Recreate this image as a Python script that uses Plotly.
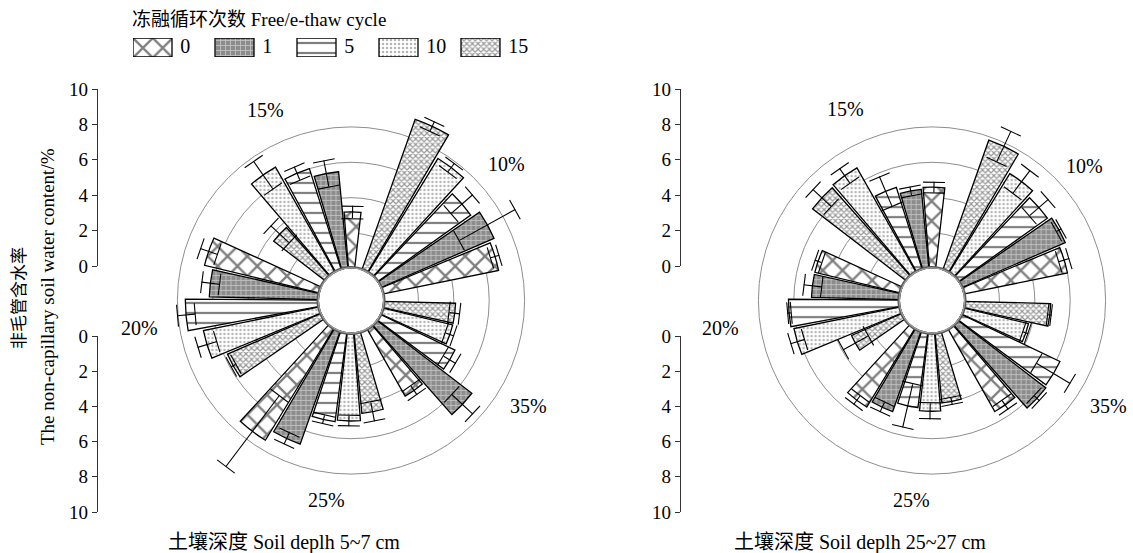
import math
import plotly.graph_objects as go

W, H = 1133, 553

# ---- data -------------------------------------------------------------
MOISTURE = ["10%", "15%", "20%", "25%", "35%"]
CYCLES = ["0", "1", "5", "10", "15"]
RADIAL_TICKS = [0, 2, 4, 6, 8, 10]

# non-capillary soil water content (%), rows = freeze-thaw cycles, cols = moisture
DEPTH_5_7_MEAN = {
    "0":  [6.70, 3.20, 6.70, 7.45, 4.40],
    "1":  [7.00, 5.50, 6.20, 6.80, 6.80],
    "5":  [6.50, 6.00, 7.55, 5.10, 4.70],
    "10": [7.60, 6.85, 6.70, 5.00, 4.10],
    "15": [9.05, 3.70, 5.80, 4.60, 4.10],
}
DEPTH_5_7_SD = {
    "0":  [0.25, 0.35, 0.50, 2.50, 0.30],
    "1":  [1.80, 0.75, 0.50, 0.35, 0.80],
    "5":  [0.80, 0.40, 0.50, 0.25, 0.40],
    "10": [0.30, 0.95, 0.55, 0.30, 0.25],
    "15": [0.30, 0.70, 0.15, 0.55, 0.30],
}
DEPTH_25_27_MEAN = {
    "0":  [6.00, 4.60, 5.00, 5.25, 5.40],
    "1":  [6.40, 4.50, 5.00, 4.85, 6.30],
    "5":  [6.20, 4.90, 6.30, 4.30, 6.20],
    "10": [6.60, 6.80, 6.15, 4.45, 3.80],
    "15": [7.80, 6.70, 3.15, 4.00, 4.90],
}
DEPTH_25_27_SD = {
    "0":  [0.30, 0.30, 0.20, 0.30, 0.30],
    "1":  [0.15, 0.25, 0.50, 0.30, 0.20],
    "5":  [0.70, 0.90, 0.10, 1.25, 1.10],
    "10": [0.80, 0.50, 0.40, 0.45, 0.15],
    "15": [0.95, 0.70, 0.80, 0.20, 0.10],
}

# ---- styling ----------------------------------------------------------
SERIF = "Liberation Serif, Noto Sans CJK SC"
RING_PX = 32          # radius of the central hole
PX_PER_UNIT = 17.7    # radial scale
CAP_HALF_PX = 11      # half length of error-bar caps
SLOT_DEG = 12
BAR_DEG = 11
ROTATION = 17

PATTERNS = {
    "0":  dict(shape="x", size=14, solidity=0.3, fgcolor="black", bgcolor="white"),
    "1":  dict(shape="+", size=5, solidity=0.3, fgcolor="white", bgcolor="#8c8c8c"),
    "5":  dict(shape="-", size=10, solidity=0.22, fgcolor="black", bgcolor="white"),
    "10": dict(shape=".", size=4, solidity=0.3, fgcolor="#6a6a6a", bgcolor="white"),
    "15": dict(shape="x", size=4, solidity=0.5, fgcolor="#303030", bgcolor="white"),
}


def px(x):
    return x / W


def py(y):
    return 1 - y / H


def text_note(x, y, text, size=20, angle=0, xanchor="center"):
    return dict(x=px(x), y=py(y), xref="paper", yref="paper", text=text,
                showarrow=False, textangle=angle, xanchor=xanchor,
                yanchor="middle",
                font=dict(family=SERIF, size=size, color="black"))


CHARTS = [
    dict(polar="polar", cx=351, cy=300.5, rmax=10.2,
         mean=DEPTH_5_7_MEAN, sd=DEPTH_5_7_SD,
         caption="土壤深度 Soil deplh 5~7 cm", cap_xy=(284, 542),
         labels={"15%": (265, 110), "10%": (506, 164), "20%": (139, 328),
                 "25%": (326, 500), "35%": (528, 406)}),
    dict(polar="polar2", cx=932, cy=300.5, rmax=9.4,
         mean=DEPTH_25_27_MEAN, sd=DEPTH_25_27_SD,
         caption="土壤深度 Soil deplh 25~27 cm", cap_xy=(860, 542),
         labels={"15%": (845, 109), "10%": (1084, 166), "20%": (720, 328),
                 "25%": (911, 500), "35%": (1108, 406)}),
]


def slot_theta(g, c):
    # six slots per moisture group, the last one left empty as a gap
    return (g * 6 + c) * SLOT_DEG


fig = go.Figure()
annotations = []

for ch in CHARTS:
    sub = ch["polar"]
    # bars
    for c, cyc in enumerate(CYCLES):
        thetas = [slot_theta(g, c) for g in range(len(MOISTURE))]
        fig.add_trace(go.Barpolar(
            r=ch["mean"][cyc], theta=thetas, width=[BAR_DEG] * len(thetas),
            subplot=sub, name=cyc, showlegend=False,
            marker=dict(color="white", line=dict(color="black", width=1.3),
                        pattern=PATTERNS[cyc]),
            hovertemplate="%{r}<extra></extra>",
        ))
    # error bars (stem + caps at both ends)
    er, et = [], []
    for c, cyc in enumerate(CYCLES):
        for g in range(len(MOISTURE)):
            tc = slot_theta(g, c)
            v, s = ch["mean"][cyc][g], ch["sd"][cyc][g]
            lo, hi = max(v - s, 0), v + s
            er += [lo, hi, None]
            et += [tc, tc, None]
            for end in (lo, hi):
                half = math.degrees(CAP_HALF_PX / (RING_PX + end * PX_PER_UNIT))
                er += [end, end, None]
                et += [tc - half, tc + half, None]
    fig.add_trace(go.Scatterpolar(
        r=er, theta=et, mode="lines", subplot=sub, showlegend=False,
        line=dict(color="black", width=1.1), connectgaps=False,
        cliponaxis=False, hoverinfo="skip"))
    # grey ring around the hole
    ring_t = list(range(0, 361, 4))
    for col, wdt in (("#555555", 5), ("#a0a0a0", 2.4)):
        fig.add_trace(go.Scatterpolar(
            r=[0] * len(ring_t), theta=ring_t, mode="lines", subplot=sub,
            showlegend=False, line=dict(color=col, width=wdt),
            cliponaxis=False, hoverinfo="skip"))

    R = RING_PX + ch["rmax"] * PX_PER_UNIT
    fig.layout[sub] = dict(
        domain=dict(x=[px(ch["cx"] - R), px(ch["cx"] + R)],
                    y=[py(ch["cy"] + R), py(ch["cy"] - R)]),
        hole=RING_PX / R,
        bgcolor="white",
        barmode="overlay",
        radialaxis=dict(range=[0, ch["rmax"]], tickvals=[2, 4, 6, 8],
                        showticklabels=False, ticks="", showline=False,
                        gridcolor="#8e8e8e", gridwidth=1),
        angularaxis=dict(rotation=ROTATION, direction="counterclockwise",
                         thetaunit="degrees", showgrid=False,
                         showticklabels=False, ticks="", showline=False),
    )
    for lab, (lx, ly) in ch["labels"].items():
        annotations.append(text_note(lx, ly, lab))
    annotations.append(text_note(ch["cap_xy"][0], ch["cap_xy"][1], ch["caption"]))

# ---- vertical radial scales beside each rose --------------------------
scale_axes = [("x", "y", "y2", 98), ("x2", "y3", "y4", 681)]
layout_axes = {}
for xa, ya_up, ya_dn, xpos in scale_axes:
    xkey = "xaxis" if xa == "x" else "xaxis" + xa[1:]
    layout_axes[xkey] = dict(domain=[px(xpos), px(xpos + 10)], range=[0, 1],
                             visible=False, anchor=ya_up, fixedrange=True,
                             automargin=False)
    for ya, dom, rng in ((ya_up, (89, 266), [0, 10]), (ya_dn, (336, 512), [10, 0])):
        ykey = "yaxis" if ya == "y" else "yaxis" + ya[1:]
        layout_axes[ykey] = dict(
            domain=[py(dom[1]), py(dom[0])], range=rng, anchor=xa,
            tickvals=RADIAL_TICKS, ticks="outside", ticklen=5, tickwidth=1,
            tickcolor="#333333", showline=True, linecolor="#333333",
            linewidth=1.3, showgrid=False, zeroline=False, fixedrange=True,
            automargin=False,
            tickfont=dict(family=SERIF, size=19, color="black"))
        fig.add_trace(go.Scatter(x=[0.5] * len(RADIAL_TICKS), y=RADIAL_TICKS,
                                 xaxis=xa, yaxis=ya, mode="markers",
                                 marker=dict(opacity=0), showlegend=False,
                                 hoverinfo="skip"))

# ---- legend drawn as a strip of patterned swatches --------------------
SWATCH_STEP_PX = 82
SWATCH_W = 39 / SWATCH_STEP_PX
layout_axes["xaxis3"] = dict(domain=[px(133), px(133 + 5 * SWATCH_STEP_PX)],
                             range=[0, 5], visible=False, anchor="y5",
                             fixedrange=True, automargin=False)
layout_axes["yaxis5"] = dict(domain=[py(57), py(38)], range=[0, 1],
                             visible=False, anchor="x3", fixedrange=True,
                             automargin=False)
for i, cyc in enumerate(CYCLES):
    fig.add_trace(go.Bar(x=[i], y=[1], base=0, width=SWATCH_W, offset=0,
                         xaxis="x3", yaxis="y5", showlegend=False,
                         marker=dict(color="white",
                                     line=dict(color="black", width=1.3),
                                     pattern=PATTERNS[cyc]),
                         hoverinfo="skip"))
fig.add_trace(go.Scatter(x=[i + SWATCH_W + 0.1 for i in range(len(CYCLES))],
                         y=[0.5] * len(CYCLES), text=CYCLES, mode="text",
                         textposition="middle right", xaxis="x3", yaxis="y5",
                         textfont=dict(family=SERIF, size=20, color="black"),
                         showlegend=False, hoverinfo="skip", cliponaxis=False))

annotations.append(text_note(130, 19, "冻融循环次数 Free/e-thaw cycle",
                             size=19, xanchor="left"))
# y-axis title (two rotated lines)
annotations.append(text_note(19, 298, "非毛管含水率", size=17, angle=-90))
annotations.append(text_note(47, 297, "The non-capillary soil water content/%",
                             size=19, angle=-90))

fig.update_layout(
    width=W, height=H,
    margin=dict(l=0, r=0, t=0, b=0, pad=0, autoexpand=False),
    paper_bgcolor="white", plot_bgcolor="white",
    barmode="overlay", showlegend=False,
    annotations=annotations, **layout_axes,
)

fig.write_html("out.html")
